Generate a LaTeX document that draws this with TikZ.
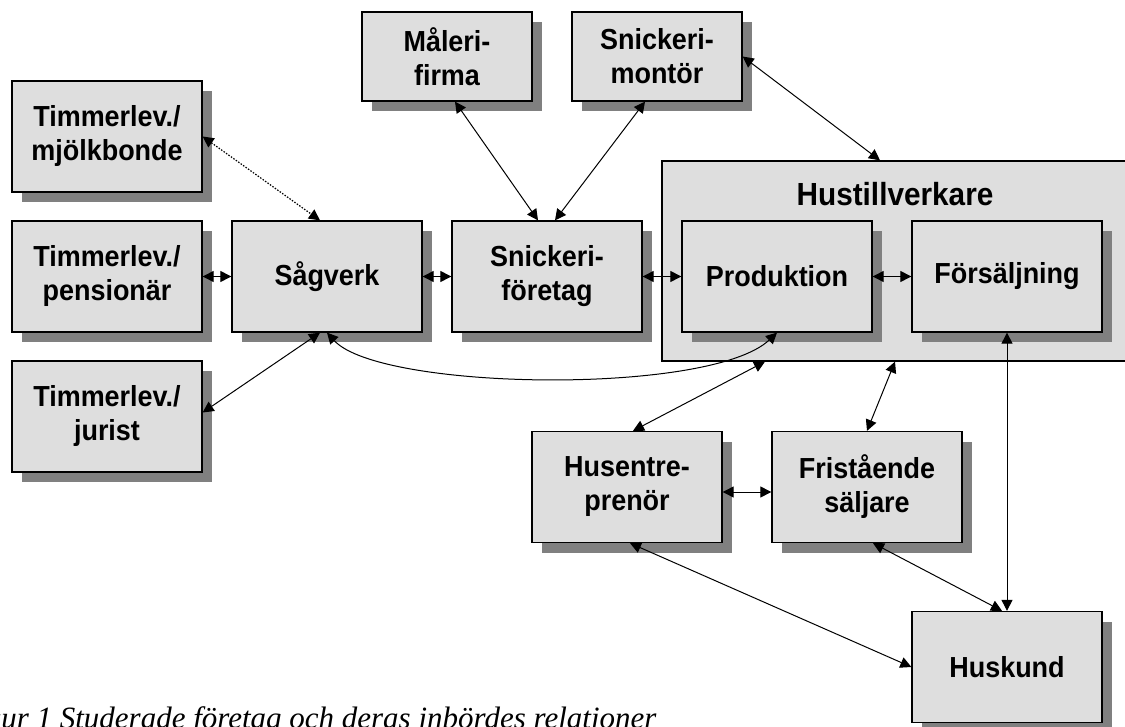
\documentclass[tikz,border=0pt]{standalone}
\usepackage{fontspec}
\setmainfont{Liberation Serif}
\newfontfamily\boxfont[FakeStretch = 0.93]{Liberation Sans}
\usetikzlibrary{arrows.meta,shadows}

\begin{document}
\begin{tikzpicture}[x = 1pt, y = -1pt,
	box/.style = {draw, line width = 1.3pt, fill = black!13,
		drop shadow = {shadow xshift = 10pt, shadow yshift = -10pt, fill = black!50, opacity = 1},
		minimum width = 190pt, minimum height = 111pt, inner sep = 0pt, align = center,
		font = \boxfont\bfseries\fontsize{29}{34}\selectfont},
	smallbox/.style = {box, minimum width = 170pt, minimum height = 89pt},
	link/.style = {{Triangle[length = 11pt, width = 11pt]}-{Triangle[length = 11pt, width = 11pt]}, line width = 1pt}]
	\useasboundingbox (0,0) rectangle (1125,727);
	% the frame of the house maker, drawn first
	\node[draw, line width = 1.3pt, fill = black!13, minimum width = 474pt, minimum height = 200pt, inner sep = 0pt] (hus) at (899,261) {};
	\node[font = \boxfont\bfseries\fontsize{32}{36}\selectfont] (hustitel) at ([xshift = -4pt, yshift = -34pt]hus.north) {Hustillverkare};
	\node[smallbox] (maleri) at (447,56.5) {Måleri-\\firma};
	\node[smallbox] (montor) at (657,56.5) {Snickeri-\\montör};
	\node[box] (mjolk) at (107,136.5) {Timmerlev./\\mjölkbonde};
	\node[box] (pens) at (107,276.5) {Timmerlev./\\pensionär};
	\node[box] (jurist) at (107,416.5) {Timmerlev./\\jurist};
	\node[box] (sag) at (327,276.5) {Sågverk};
	\node[box] (snf) at (547,276.5) {Snickeri-\\företag};
	\node[box] (prod) at (777,276.5) {Produktion};
	\node[box] (fors) at (1007,276.5) {Försäljning};
	\node[box] (entre) at (627,487) {Husentre-\\prenör};
	\node[box] (frist) at (867,487) {Fristående\\säljare};
	\node[box] (kund) at (1007,667) {Huskund};
	\node[anchor = base west, inner sep = 0pt, font = \itshape\fontsize{31}{36}\selectfont] (figtext) at (-42,728) {Figur 1 Studerade företag och deras inbördes relationer};
	% timber suppliers
	\draw[link, line width = 1.2pt, dash pattern = on 1.5pt off 1.5pt] (mjolk.east) -- ([xshift = -7pt]sag.north);
	\draw[link] (pens.east) -- (sag.west);
	\draw[link] ([yshift = 4pt]jurist.east) -- ([xshift = -7pt]sag.south);
	% joinery
	\draw[link] (sag.east) -- (snf.west);
	\draw[link] ([xshift = 8pt]maleri.south) -- ([xshift = -9pt]snf.north);
	\draw[link] ([xshift = -12pt]montor.south) -- ([xshift = 8pt]snf.north);
	\draw[link] (montor.east) -- ([xshift = -19pt]hus.north);
	\draw[link] (snf.east) -- (prod.west);
	\draw[link] (prod.east) -- (fors.west);
	\draw[link] (sag.south) .. controls +(53,58) and +(-67,63) .. (prod.south);
	% selling
	\draw[link] ([xshift = -134pt]hus.south) -- ([xshift = 6pt]entre.north);
	\draw[link] ([xshift = -4pt]hus.south) -- (frist.north);
	\draw[link] ([yshift = -5pt]entre.east) -- ([yshift = -5pt]frist.west);
	\draw[link] (fors.south) -- (kund.north);
	\draw[link] ([xshift = 3pt]entre.south) -- (kund.west);
	\draw[link] ([xshift = 6pt]frist.south) -- ([xshift = -5pt]kund.north);
\end{tikzpicture}
\end{document}
